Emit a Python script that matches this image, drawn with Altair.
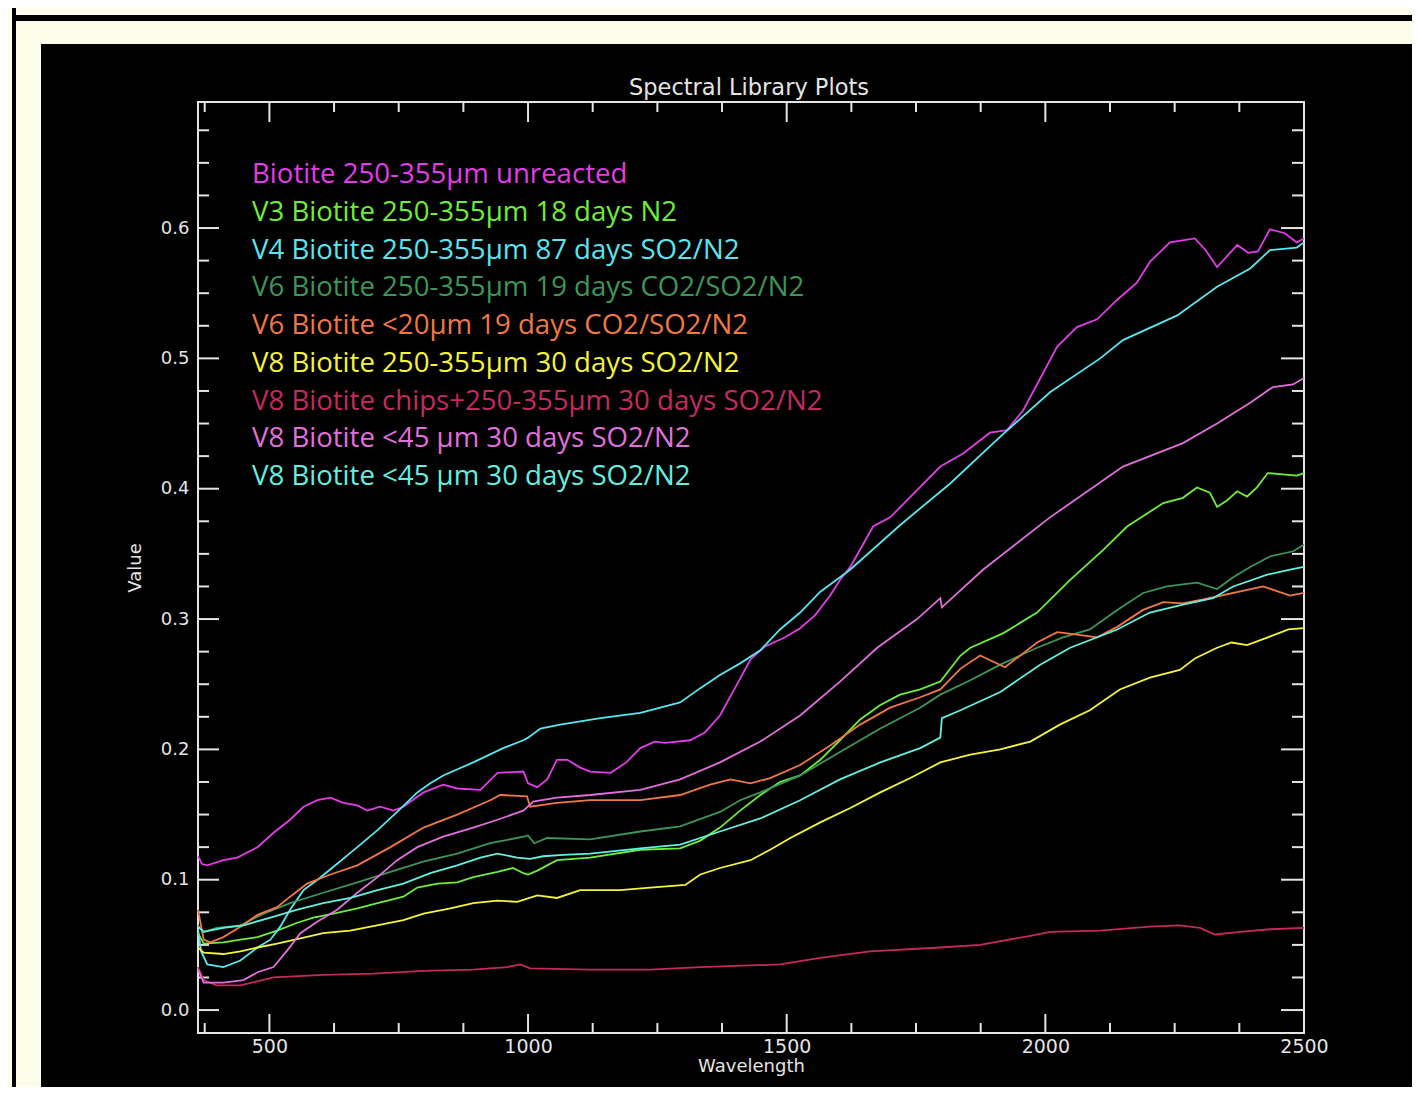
import altair as alt
import pandas as pd

TITLE = "Spectral Library Plots"
X_TITLE = "Wavelength"
Y_TITLE = "Value"

LABELS = [
    "Biotite 250-355µm unreacted",
    "V3 Biotite 250-355µm 18 days N2",
    "V4 Biotite 250-355µm 87 days SO2/N2",
    "V6 Biotite 250-355µm 19 days CO2/SO2/N2",
    "V6 Biotite <20µm 19 days CO2/SO2/N2",
    "V8 Biotite 250-355µm 30 days SO2/N2",
    "V8 Biotite chips+250-355µm 30 days SO2/N2",
    "V8 Biotite <45 µm 30 days SO2/N2",
    "V8 Biotite <45 µm 30 days SO2/N2",
]
COLORS = ["#e23de6", "#6eee38", "#58e6f0", "#3e955a", "#f07846",
          "#f4f43c", "#c42a60", "#e070dc", "#62f0e0"]

S1 = [(362,0.118),(370,0.112),(380,0.111),(411,0.115),(438,0.117),(477,0.125),(508,0.136),(540,0.146),
      (566,0.156),(593,0.161),(618,0.163),(643,0.159),(670,0.157),(689,0.153),(714,0.156),(740,0.153),
      (759,0.156),(798,0.167),(836,0.173),(863,0.170),(908,0.169),(941,0.182),(991,0.183),(1000,0.174),
      (1018,0.171),(1037,0.177),(1056,0.192),(1076,0.192),(1101,0.186),(1120,0.183),(1160,0.182),
      (1190,0.190),(1217,0.201),(1245,0.206),(1265,0.205),(1313,0.207),(1342,0.213),(1371,0.226),
      (1400,0.247),(1430,0.269),(1458,0.279),(1497,0.286),(1526,0.293),(1555,0.303),(1584,0.318),
      (1603,0.330),(1623,0.340),(1667,0.371),(1700,0.378),(1752,0.399),(1797,0.417),(1841,0.427),
      (1893,0.443),(1926,0.445),(1957,0.460),(2023,0.509),(2061,0.524),(2100,0.530),(2139,0.545),
      (2177,0.558),(2202,0.574),(2241,0.589),(2289,0.592),(2310,0.583),(2332,0.570),(2371,0.587),
      (2392,0.581),(2411,0.582),(2434,0.599),(2463,0.596),(2486,0.589),(2500,0.592)]
S2 = [(362,0.059),(373,0.051),(411,0.052),(444,0.054),(477,0.056),(515,0.061),(554,0.067),(585,0.071),
      (624,0.074),(670,0.078),(709,0.082),(759,0.087),(786,0.094),(825,0.097),(863,0.098),(894,0.102),
      (941,0.106),(971,0.109),(991,0.105),(1000,0.104),(1018,0.107),(1056,0.115),(1120,0.117),
      (1217,0.123),(1294,0.124),(1333,0.130),(1371,0.140),(1410,0.153),(1449,0.165),(1487,0.175),
      (1526,0.180),(1565,0.192),(1603,0.207),(1642,0.223),(1681,0.234),(1719,0.242),(1758,0.246),
      (1797,0.252),(1836,0.272),(1855,0.278),(1918,0.289),(1984,0.305),(2048,0.330),(2112,0.353),
      (2158,0.371),(2228,0.389),(2266,0.393),(2293,0.401),(2318,0.397),(2332,0.386),(2351,0.391),
      (2371,0.398),(2390,0.394),(2409,0.401),(2430,0.412),(2459,0.411),(2486,0.410),(2500,0.412)]
S3 = [(362,0.062),(368,0.045),(380,0.035),(411,0.033),(444,0.038),(477,0.048),(502,0.054),(521,0.064),
      (540,0.077),(566,0.092),(593,0.100),(624,0.110),(670,0.125),(709,0.138),(747,0.152),(786,0.167),
      (811,0.174),(836,0.180),(894,0.190),(952,0.201),(991,0.207),(1000,0.209),(1024,0.216),
      (1062,0.219),(1140,0.224),(1217,0.228),(1294,0.236),(1333,0.247),(1371,0.257),(1410,0.266),
      (1449,0.276),(1487,0.292),(1526,0.305),(1565,0.321),(1603,0.332),(1623,0.338),(1719,0.372),
      (1816,0.404),(1913,0.440),(2009,0.474),(2106,0.500),(2150,0.514),(2255,0.533),(2332,0.555),
      (2396,0.569),(2434,0.583),(2486,0.585),(2500,0.589)]
S4 = [(362,0.065),(373,0.060),(398,0.063),(444,0.065),(489,0.074),(540,0.082),(604,0.090),(670,0.098),
      (734,0.106),(799,0.114),(863,0.120),(927,0.128),(991,0.133),(1000,0.134),(1012,0.128),
      (1037,0.132),(1120,0.131),(1217,0.137),(1294,0.141),(1371,0.152),(1410,0.161),(1449,0.167),
      (1526,0.180),(1603,0.198),(1681,0.216),(1758,0.232),(1797,0.242),(1855,0.253),(1913,0.265),
      (1951,0.272),(1984,0.278),(2034,0.286),(2086,0.292),(2139,0.307),(2189,0.320),(2235,0.325),
      (2293,0.328),(2332,0.323),(2363,0.332),(2396,0.340),(2434,0.348),(2479,0.352),(2500,0.357)]
S5 = [(362,0.077),(373,0.054),(386,0.052),(411,0.056),(444,0.064),(477,0.073),(515,0.079),(540,0.087),
      (573,0.097),(618,0.104),(670,0.111),(734,0.125),(798,0.140),(863,0.150),(927,0.161),(946,0.165),
      (998,0.164),(1004,0.156),(1056,0.159),(1120,0.161),(1217,0.161),(1294,0.165),(1352,0.173),
      (1391,0.177),(1430,0.174),(1468,0.178),(1526,0.188),(1584,0.203),(1642,0.219),(1700,0.232),
      (1758,0.240),(1797,0.246),(1836,0.262),(1874,0.272),(1922,0.263),(1984,0.282),(2023,0.290),
      (2061,0.288),(2100,0.286),(2139,0.294),(2189,0.307),(2228,0.313),(2266,0.312),(2305,0.315),
      (2421,0.325),(2473,0.318),(2500,0.320)]
S6 = [(362,0.048),(373,0.044),(411,0.043),(444,0.045),(477,0.048),(515,0.051),(560,0.055),(604,0.059),
      (656,0.061),(708,0.065),(759,0.069),(798,0.074),(850,0.078),(894,0.082),(941,0.084),(979,0.083),
      (1018,0.088),(1056,0.086),(1101,0.092),(1178,0.092),(1236,0.094),(1304,0.096),(1333,0.104),
      (1371,0.109),(1430,0.115),(1468,0.123),(1507,0.132),(1565,0.144),(1623,0.155),(1681,0.167),
      (1739,0.178),(1797,0.190),(1855,0.196),(1913,0.200),(1971,0.206),(2028,0.219),(2086,0.230),
      (2144,0.246),(2202,0.255),(2260,0.261),(2290,0.270),(2332,0.278),(2360,0.282),(2390,0.280),
      (2430,0.286),(2470,0.292),(2500,0.293)]
S7 = [(362,0.033),(373,0.023),(398,0.019),(444,0.019),(508,0.025),(604,0.027),(701,0.028),(798,0.030),
      (894,0.031),(960,0.033),(985,0.035),(1004,0.032),(1120,0.031),(1236,0.031),(1333,0.033),
      (1487,0.035),(1565,0.040),(1661,0.045),(1797,0.048),(1874,0.050),(1971,0.057),(2009,0.060),
      (2106,0.061),(2202,0.064),(2260,0.065),(2299,0.063),(2328,0.058),(2377,0.060),(2434,0.062),
      (2500,0.063)]
S8 = [(362,0.031),(373,0.021),(411,0.021),(450,0.023),(477,0.029),(508,0.033),(535,0.046),(560,0.059),
      (593,0.068),(631,0.077),(670,0.090),(709,0.102),(747,0.115),(786,0.125),(836,0.133),(894,0.140),
      (941,0.146),(991,0.153),(1010,0.160),(1056,0.163),(1120,0.165),(1217,0.169),(1294,0.177),
      (1371,0.190),(1449,0.206),(1526,0.226),(1603,0.252),(1675,0.278),(1752,0.300),(1797,0.316),
      (1800,0.309),(1880,0.338),(2009,0.378),(2150,0.417),(2266,0.435),(2332,0.450),(2396,0.466),
      (2440,0.478),(2479,0.480),(2500,0.485)]
S9 = [(362,0.064),(373,0.060),(411,0.063),(450,0.065),(502,0.071),(554,0.077),(604,0.082),(657,0.086),
      (709,0.092),(759,0.097),(811,0.105),(863,0.111),(908,0.117),(941,0.120),(979,0.117),(1004,0.116),
      (1029,0.118),(1068,0.119),(1120,0.120),(1217,0.124),(1294,0.127),(1371,0.137),(1449,0.147),
      (1526,0.161),(1603,0.177),(1681,0.190),(1758,0.201),(1797,0.209),(1800,0.224),(1836,0.230),
      (1913,0.244),(1990,0.265),(2048,0.278),(2139,0.292),(2202,0.305),(2266,0.311),(2324,0.316),
      (2363,0.325),(2429,0.334),(2473,0.338),(2500,0.340)]
SERIES = [S1, S2, S3, S4, S5, S6, S7, S8, S9]

X_MAJOR = [500, 1000, 1500, 2000, 2500]
X_MINOR = [375, 625, 750, 875, 1125, 1250, 1375, 1625, 1750, 1875, 2125, 2250, 2375]
Y_MAJOR = [0.0, 0.1, 0.2, 0.3, 0.4, 0.5, 0.6]
Y_MINOR = [0.025, 0.05, 0.075, 0.125, 0.15, 0.175, 0.225, 0.25, 0.275, 0.325, 0.35, 0.375,
           0.425, 0.45, 0.475, 0.525, 0.55, 0.575, 0.625, 0.65, 0.675]

XDOM = [362, 2500]
YDOM = [-0.0176, 0.6967]

W, H = 1106, 931
CREAM = "#fcfdeb"
FG = "#e4e4e4"
AXFONT = "DejaVu Sans"

ids = [f"s{i+1}" for i in range(len(SERIES))]
rows = []
for sid, pts in zip(ids, SERIES):
    for w, v in pts:
        rows.append({"sid": sid, "w": w, "v": v})
df = pd.DataFrame(rows)

color = alt.Color("sid:N", scale=alt.Scale(domain=ids, range=COLORS), legend=None)

X_ENC = alt.X("w:Q", scale=alt.Scale(domain=XDOM, nice=False, zero=False),
              axis=alt.Axis(values=X_MAJOR, format="d", ticks=False, domain=False, grid=False,
                            labelFlush=False, labelOverlap=False, labelColor=FG, labelFont=AXFONT,
                            labelFontSize=19, labelPadding=4, title=X_TITLE, titleColor=FG,
                            titleFont=AXFONT, titleFontSize=18, titleFontWeight="normal",
                            titlePadding=1, zindex=1))
Y_ENC = alt.Y("v:Q", scale=alt.Scale(domain=YDOM, nice=False, zero=False),
              axis=alt.Axis(values=Y_MAJOR, format=".1f", ticks=False, domain=False, grid=False,
                            labelFlush=False, labelOverlap=False, labelColor=FG, labelFont=AXFONT,
                            labelFontSize=18, labelPadding=9, title=Y_TITLE, titleColor=FG,
                            titleFont=AXFONT, titleFontSize=18, titleFontWeight="normal",
                            titlePadding=16, zindex=1))

one = pd.DataFrame({"k": [0]})

bg = alt.Chart(one).mark_rect(color="black").encode(
    x=alt.value(-157), x2=alt.value(1240), y=alt.value(-58), y2=alt.value(1010))
frame_v = alt.Chart(one).mark_rect(color="black").encode(
    x=alt.value(-186), x2=alt.value(-182), y=alt.value(-100), y2=alt.value(1010))
frame_h = alt.Chart(one).mark_rect(color="black").encode(
    x=alt.value(-186), x2=alt.value(1240), y=alt.value(-87), y2=alt.value(-81))

layers = [bg, frame_v, frame_h]

xt_major = pd.DataFrame({"w": X_MAJOR})
xt_minor = pd.DataFrame({"w": X_MINOR})
yt_major = pd.DataFrame({"v": Y_MAJOR})
yt_minor = pd.DataFrame({"v": Y_MINOR})

def rule():
    return dict(color=FG, strokeWidth=2)

layers += [
    alt.Chart(xt_major).mark_rule(**rule()).encode(x=X_ENC, y=alt.value(H), y2=alt.value(H - 19)),
    alt.Chart(xt_minor).mark_rule(**rule()).encode(x=X_ENC, y=alt.value(H), y2=alt.value(H - 10)),
    alt.Chart(xt_major).mark_rule(**rule()).encode(x=X_ENC, y=alt.value(0), y2=alt.value(20)),
    alt.Chart(xt_minor).mark_rule(**rule()).encode(x=X_ENC, y=alt.value(0), y2=alt.value(10)),
    alt.Chart(yt_major).mark_rule(**rule()).encode(y=Y_ENC, x=alt.value(0), x2=alt.value(21)),
    alt.Chart(yt_minor).mark_rule(**rule()).encode(y=Y_ENC, x=alt.value(0), x2=alt.value(11)),
    alt.Chart(yt_major).mark_rule(**rule()).encode(y=Y_ENC, x=alt.value(W), x2=alt.value(W - 23)),
    alt.Chart(yt_minor).mark_rule(**rule()).encode(y=Y_ENC, x=alt.value(W), x2=alt.value(W - 12)),
]

box = alt.Chart(one).mark_rect(fillOpacity=0, stroke=FG, strokeWidth=2).encode(
    x=alt.value(0), x2=alt.value(W), y=alt.value(0), y2=alt.value(H))

title = alt.Chart(pd.DataFrame({"t": [TITLE]})).mark_text(
    font=AXFONT, fontSize=22.5, color=FG, align="center", baseline="alphabetic").encode(
    x=alt.value(W / 2 - 2), y=alt.value(-7), text="t:N")

lines = alt.Chart(df).mark_line(strokeWidth=1.8).encode(
    x=X_ENC, y=Y_ENC, color=color, detail="sid:N", order="w:Q")

layers += [box, title, lines]

LEG_X, LEG_Y0, LEG_DY = 54, 81, 37.75
for i, (sid, lab) in enumerate(zip(ids, LABELS)):
    t = alt.Chart(pd.DataFrame({"sid": [sid], "label": [lab]})).mark_text(
        font="Open Sans", fontSize=27.6, align="left", baseline="alphabetic").encode(
        x=alt.value(LEG_X), y=alt.value(LEG_Y0 + i * LEG_DY), text="label:N", color=color)
    layers.append(t)

chart = alt.layer(*layers).properties(
    width=W, height=H,
    autosize=alt.AutoSizeParams(type="none"),
    padding={"left": 190, "top": 94, "right": 108, "bottom": 54},
).configure(background=CREAM).configure_view(stroke=None)

chart.save("out.html", embed_options={"renderer": "svg", "actions": False})
